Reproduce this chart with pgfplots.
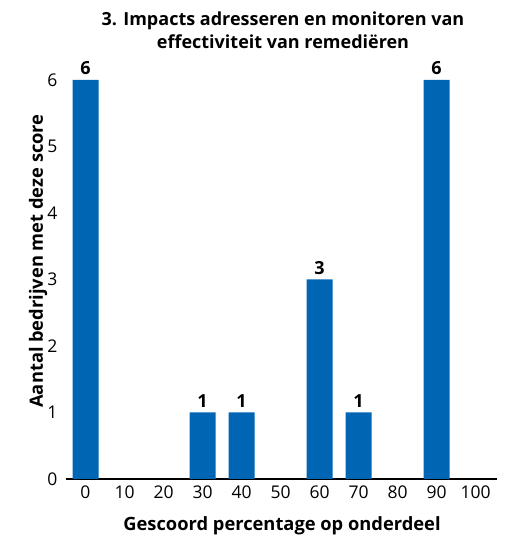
\documentclass[border=0pt]{standalone}
\usepackage{pgfplots}
\pgfplotsset{compat=1.18}
\usepackage{fontspec}
\setmainfont{Open Sans}
\definecolor{barblue}{HTML}{0066B3}
\begin{document}
\begin{tikzpicture}
\path[use as bounding box] (0pt,0pt) rectangle (506pt,541pt);
\begin{axis}[
  at={(66pt,62pt)}, anchor=south west,
  scale only axis, width=431pt, height=399pt,
  xmin=-0.5, xmax=10.55, ymin=0, ymax=6,
  axis x line*=bottom, axis y line=none,
  axis line style={black, line width=1.2pt},
  xtick={0,...,10}, xticklabels={0,10,20,30,40,50,60,70,80,90,100},
  ytick={0,...,6},
  ymajorgrids, grid style={gray!50, line width=0.8pt},
  major tick length=0pt,
  tick label style={font=\fontsize{17.5}{20}\selectfont},
  /pgf/number format/assume math mode=true,
  xticklabel style={yshift=-3pt},
  clip=false,
]
\addplot[ybar, bar width=26pt, fill=barblue, draw=none,
  nodes near coords, nodes near coords style={font=\fontsize{18}{20}\selectfont\bfseries, anchor=south, yshift=1.5pt}]
 coordinates {(0,6) (3,1) (4,1) (6,3) (7,1) (9,6)};
\foreach \v in {0,...,6} {
  \edef\tmp{\noexpand\node[anchor=east, font=\noexpand\fontsize{17.5}{20}\noexpand\selectfont] at (axis cs:-0.5,\v) [xshift=-5pt] {\v};}
  \tmp
}
\end{axis}
\node[font=\fontsize{18}{23}\selectfont\bfseries, align=center] at (283pt,511pt) {3. Impacts adresseren en monitoren van\\effectiviteit van remediëren};
\node[font=\fontsize{18.3}{20}\selectfont\bfseries, rotate=90] at (38pt,280pt) {Aantal bedrijven met deze score};
\node[font=\fontsize{18.3}{20}\selectfont\bfseries] at (282pt,15pt) {Gescoord percentage op onderdeel};
\end{tikzpicture}
\end{document}
